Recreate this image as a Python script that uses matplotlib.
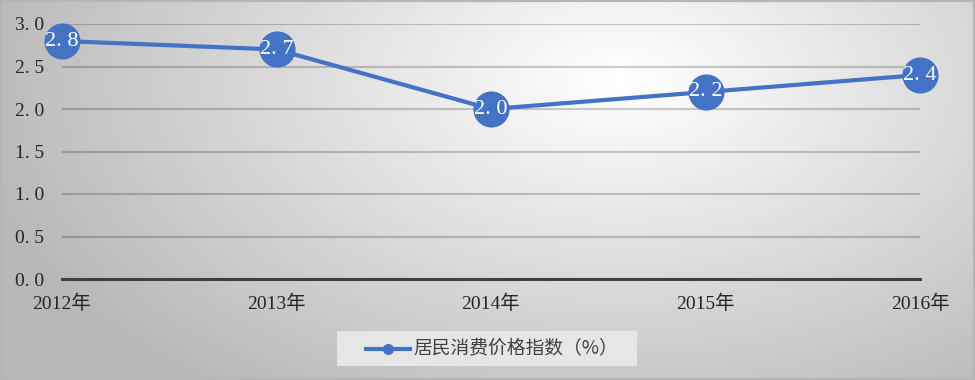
import numpy as np
import matplotlib.pyplot as plt
from matplotlib.patches import Rectangle

years = ['2012年', '2013年', '2014年', '2015年', '2016年']
cpi = [2.8, 2.7, 2.0, 2.2, 2.4]
series_name = '居民消费价格指数（%）'

blue = '#4472C4'
fonts = ['Liberation Serif', 'Noto Sans CJK SC']

fig = plt.figure(figsize=(9.75, 3.8), dpi=100)

# radial gradient background
bg = fig.add_axes([0, 0, 1, 1], zorder=-10)
h, w = 380, 975
yy, xx = np.mgrid[0:h, 0:w]
r = np.sqrt(((xx - 620) / 680.0) ** 2 + ((yy - 80) / 400.0) ** 2)
shade = np.clip(1.0 - 0.29 * r, 0.72, 1.0)
bg.imshow(shade, cmap='gray', vmin=0, vmax=1, aspect='auto', extent=[0, 1, 0, 1])
bg.axis('off')
bg.add_patch(Rectangle((0, 0), 1, 1, transform=bg.transAxes, fill=False,
                       edgecolor='#b5b5b5', lw=3))

ax = fig.add_axes([62 / 975, 101 / 380, 858 / 975, 255 / 380])
ax.patch.set_alpha(0)
x = np.arange(len(years))
ax.plot(x, cpi, color=blue, lw=3, marker='o', ms=25, clip_on=False, zorder=3)
for xi, v in zip(x, cpi):
    ax.text(xi, v, f'{v:.1f}'.replace('.', '. '), color='white', ha='center',
            va='center', fontsize=16, family=fonts, zorder=4)

ax.set_xlim(0, len(years) - 1)
ax.set_ylim(0, 3.0)
ax.set_yticks(np.arange(0, 3.01, 0.5))
ax.set_yticklabels([f'{t:.1f}'.replace('.', '. ') for t in np.arange(0, 3.01, 0.5)])
ax.set_xticks(x)
ax.set_xticklabels(years)
for lab in ax.get_xticklabels() + ax.get_yticklabels():
    lab.set_family(fonts)
    lab.set_fontsize(14)
    lab.set_color('#262626')
ax.tick_params(axis='y', length=0, pad=13)
ax.tick_params(axis='x', length=0, pad=11)
ax.grid(axis='y', color='black', alpha=0.2, lw=1.5)
for s in ['top', 'right', 'left']:
    ax.spines[s].set_visible(False)
ax.spines['bottom'].set_color('#404040')
ax.spines['bottom'].set_linewidth(2.2)

# legend
fig.patches.append(Rectangle((337 / 975, 14 / 380), 300 / 975, 35 / 380,
                             transform=fig.transFigure, facecolor='#e6e6e6',
                             edgecolor='none', zorder=1))
fig.lines.append(plt.Line2D([366 / 975, 410 / 975], [31 / 380, 31 / 380],
                            transform=fig.transFigure, color=blue, lw=3,
                            marker=None, zorder=2))
fig.lines.append(plt.Line2D([388 / 975], [31 / 380], transform=fig.transFigure,
                            color=blue, marker='o', ms=7, zorder=2))
fig.text(413 / 975, 31 / 380, series_name, ha='left', va='center', fontsize=13.5,
         family=['Noto Sans CJK SC', 'DejaVu Sans'], color='#404040', zorder=3)

fig.savefig('out.png', dpi=100)
